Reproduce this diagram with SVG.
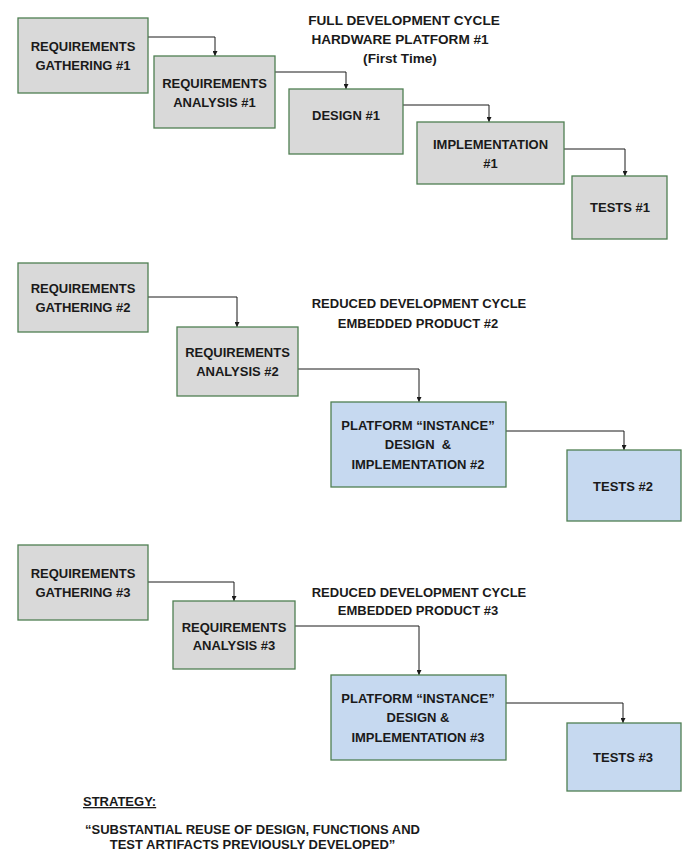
<svg xmlns="http://www.w3.org/2000/svg" width="687" height="856" viewBox="0 0 687 856">
<style>
text{font-family:"Liberation Sans",Arial,sans-serif;font-weight:bold;font-size:13px;fill:#1a1a1a;text-anchor:middle}
.t1{font-size:13.6px}
.g{fill:#d9d9d9;stroke:#4f7f52;stroke-width:1.3}
.b{fill:#c6d9f0;stroke:#4f7f52;stroke-width:1.3}
.c{fill:none;stroke:#1a1a1a;stroke-width:1;marker-end:url(#ah)}
</style>
<defs>
<marker id="ah" markerWidth="6" markerHeight="5" refX="5" refY="2.5" orient="auto" markerUnits="userSpaceOnUse">
<path d="M0,0 L5,2.5 L0,5 Z" fill="#1a1a1a"/>
</marker>
</defs>
<rect width="687" height="856" fill="#fff"/>
<g id="connectors">
<path class="c" d="M148,37 H215 V56"/>
<path class="c" d="M275,72 H346 V89"/>
<path class="c" d="M403,105 H489 V122"/>
<path class="c" d="M564,149 H625 V176"/>
<path class="c" d="M148,297 H237 V327"/>
<path class="c" d="M298,369 H419 V402"/>
<path class="c" d="M506,431 H624 V450"/>
<path class="c" d="M148,582 H234 V601"/>
<path class="c" d="M295,626 H419 V675"/>
<path class="c" d="M506,703 H623 V723"/>
</g>
<g id="rg1"><rect class="g" x="18" y="18" width="130" height="75"/><text x="83" y="51">REQUIREMENTS</text><text x="83" y="70">GATHERING #1</text></g>
<g id="ra1"><rect class="g" x="154" y="56" width="121" height="72"/><text x="214.5" y="88">REQUIREMENTS</text><text x="214.5" y="107">ANALYSIS #1</text></g>
<g id="d1"><rect class="g" x="289" y="89" width="114" height="65"/><text x="346" y="120">DESIGN #1</text></g>
<g id="i1"><rect class="g" x="417" y="122" width="147" height="62"/><text x="490.5" y="149">IMPLEMENTATION</text><text x="490.5" y="168">#1</text></g>
<g id="t1"><rect class="g" x="572" y="176" width="95" height="63"/><text x="620" y="212">TESTS #1</text></g>
<g id="title1"><text class="t1" x="404" y="25">FULL DEVELOPMENT CYCLE</text><text class="t1" x="400" y="44">HARDWARE PLATFORM #1</text><text class="t1" x="400" y="63">(First Time)</text></g>

<g id="rg2"><rect class="g" x="18" y="263" width="130" height="69"/><text x="83" y="293">REQUIREMENTS</text><text x="83" y="312">GATHERING #2</text></g>
<g id="ra2"><rect class="g" x="177" y="327" width="121" height="69"/><text x="237.5" y="357">REQUIREMENTS</text><text x="237.5" y="376">ANALYSIS #2</text></g>
<g id="p2"><rect class="b" x="331" y="402" width="175" height="85"/><text x="418" y="430">PLATFORM “INSTANCE”</text><text x="418" y="449" xml:space="preserve">DESIGN  &amp;</text><text x="418" y="469">IMPLEMENTATION #2</text></g>
<g id="t2"><rect class="b" x="567" y="450" width="114" height="71"/><text x="623" y="491">TESTS #2</text></g>
<g id="title2"><text x="419" y="308">REDUCED DEVELOPMENT CYCLE</text><text x="418" y="328">EMBEDDED PRODUCT #2</text></g>

<g id="rg3"><rect class="g" x="18" y="545" width="130" height="75"/><text x="83" y="578">REQUIREMENTS</text><text x="83" y="597">GATHERING #3</text></g>
<g id="ra3"><rect class="g" x="173" y="601" width="122" height="68"/><text x="234" y="632">REQUIREMENTS</text><text x="234" y="650">ANALYSIS #3</text></g>
<g id="p3"><rect class="b" x="331" y="675" width="175" height="85"/><text x="418" y="703">PLATFORM “INSTANCE”</text><text x="418" y="722">DESIGN &amp;</text><text x="418" y="742">IMPLEMENTATION #3</text></g>
<g id="t3"><rect class="b" x="567" y="723" width="114" height="68"/><text x="623" y="762">TESTS #3</text></g>
<g id="title3"><text x="419" y="597">REDUCED DEVELOPMENT CYCLE</text><text x="418" y="615">EMBEDDED PRODUCT #3</text></g>

<g id="strategy">
<text x="83" y="806" style="text-anchor:start;text-decoration:underline">STRATEGY:</text>
<text x="252.5" y="834">“SUBSTANTIAL REUSE OF DESIGN, FUNCTIONS AND</text>
<text x="252.5" y="849">TEST ARTIFACTS PREVIOUSLY DEVELOPED”</text>
</g>
</svg>
